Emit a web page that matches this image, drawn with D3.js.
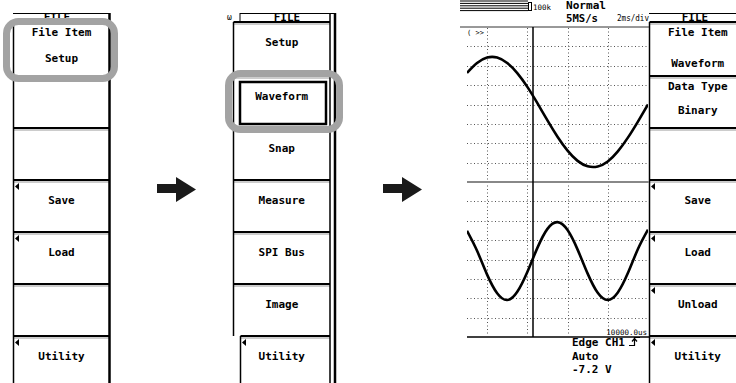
<!DOCTYPE html>
<html><head><meta charset="utf-8">
<script src="https://cdn.jsdelivr.net/npm/d3@7"></script>
<style>body{margin:0;background:#fff}svg{display:block}text{font-family:"DejaVu Sans Mono",monospace}</style>
</head><body>
<script>
// ---------------- DATA ----------------
const menu1Labels = [["File Item","Setup"], [], [], ["Save"], ["Load"], [], ["Utility"]];
const menu1Marks  = [false,false,false,true,true,false,true];
const menu2Labels = [["Setup"], ["Waveform"], ["Snap"], ["Measure"], ["SPI Bus"], ["Image"], ["Utility"]];
const menu2Marks  = [false,false,false,false,false,false,true];
const menu3Labels = [["File Item","Waveform"], ["Data Type","Binary"], [], ["Save"], ["Load"], ["Unload"], ["Utility"]];
const menu3Marks  = [false,false,false,true,true,true,true];
const menuTitle = "FILE";
// time axis in divisions (2 ms/div)
const tDiv = [-0.5,-0.25,0,0.25,0.5,0.75,1,1.25,1.5,1.75,2,2.25,2.5,2.75,3,3.25,3.5,3.75,4];
// CH1 and CH2 trace values in divisions
const ch1 = [1.63,2.14,2.42,2.42,2.14,1.62,0.91,0.07,-0.82,-1.66,-2.38,-2.91,-3.19,-3.20,-2.94,-2.42,-1.71,-0.88,0.00];
const ch2 = [1.48,0.45,-0.78,-1.74,-2.09,-1.66,-0.64,0.60,1.58,1.93,1.52,0.51,-0.73,-1.72,-2.09,-1.70,-0.70,0.54,1.54];
const gridX = [0,1,2,3];
const gridY = [-3,-2,-1,0,1,2,3];
const statusTop = ["Normal","5MS/s","2ms/div"];
const statusBottom = ["Edge CH1","Auto","-7.2 V"];
const timeLabel = "10000.0us";
const recLabel = "100k";
const scrollLabel = "( >>";

// ---------------- DRAW ----------------
const W = 736, H = 383;
const svg = d3.select("body").append("svg").attr("width", W).attr("height", H);
const rows = [22, 76, 128, 180, 232, 284, 336, 392];

function drawMenu(g, cfg){
  const {left, right, labels, marks, titleX} = cfg;
  const cx = (left + right) / 2;
  g.append("line").attr("x1", cfg.headLeft).attr("x2", cfg.headRight).attr("y1", 13.5).attr("y2", 13.5).attr("stroke", "#000").attr("stroke-width", 1);
  g.append("text").attr("x", titleX).attr("y", 21).attr("text-anchor", "middle")
    .attr("font-size", 11).attr("font-weight", "bold").text(menuTitle);
  labels.forEach((lab, i) => {
    const top = rows[i];
    const l = (cfg.rowLeft && cfg.rowLeft[i] !== undefined) ? cfg.rowLeft[i] : left;
    g.append("line").attr("x1", l).attr("x2", right).attr("y1", top).attr("y2", top)
      .attr("stroke", "#000").attr("stroke-width", 2);
    g.append("line").attr("x1", l).attr("x2", right).attr("y1", top + 2).attr("y2", top + 2)
      .attr("stroke", "#9a9a9a").attr("stroke-width", 1.2);
    g.append("line").attr("x1", l).attr("x2", l).attr("y1", top).attr("y2", rows[i+1])
      .attr("stroke", "#000").attr("stroke-width", 1.5);
    if (marks[i]) {
      g.append("path").attr("d", `M${l+1.5},${top+6.5} L${l+5.5},${top+3} L${l+5.5},${top+10} Z`).attr("fill", "#000");
    }
    const cy = lab.length === 2 ? [top + 14, top + (cfg.second ? cfg.second[i] || 40 : 40)] : [top + 24];
    lab.forEach((s, k) => {
      g.append("text").attr("x", cx + (cfg.dx || 0)).attr("y", cy[k]).attr("text-anchor", "middle")
        .attr("font-size", 11).attr("font-weight", "bold").text(s);
    });
  });
  g.append("line").attr("x1", right).attr("x2", right).attr("y1", 13).attr("y2", H)
    .attr("stroke", "#000").attr("stroke-width", cfg.rightW || 2.5);
}

const g1 = svg.append("g");
drawMenu(g1, {left: 13.5, right: 109.5, labels: menu1Labels, marks: menu1Marks, titleX: 57, headLeft: 13, headRight: 110, second: {0: 40}});
const g2 = svg.append("g");
drawMenu(g2, {left: 233.5, right: 330, labels: menu2Labels, marks: menu2Marks, titleX: 287, headLeft: 240, headRight: 335, rightW: 1.5, rowLeft: {6: 240.5}});
g2.append("line").attr("x1", 335).attr("x2", 335).attr("y1", 13).attr("y2", H).attr("stroke", "#000").attr("stroke-width", 2.5);
g2.append("line").attr("x1", 240).attr("x2", 240).attr("y1", 13).attr("y2", 22).attr("stroke", "#000").attr("stroke-width", 1);
g2.append("text").attr("x", 227).attr("y", 20).attr("font-size", 8).text("ω");
g2.append("rect").attr("x", 240).attr("y", 82).attr("width", 86).attr("height", 42)
  .attr("fill", "none").attr("stroke", "#000").attr("stroke-width", 2.5);
const g3 = svg.append("g");
drawMenu(g3, {left: 649.5, right: 746, labels: menu3Labels, marks: menu3Marks, titleX: 695, headLeft: 649, headRight: 746, dx: 0, second: {0: 45, 1: 38}});

svg.append("rect").attr("x", 6.5).attr("y", 21.5).attr("width", 108).attr("height", 57).attr("rx", 12)
  .attr("fill", "none").attr("stroke", "#a3a3a3").attr("stroke-width", 7);
svg.append("rect").attr("x", 228.5).attr("y", 73.5).attr("width", 111).attr("height", 56).attr("rx", 12)
  .attr("fill", "none").attr("stroke", "#a3a3a3").attr("stroke-width", 7);

[157, 383].forEach(x0 => {
  svg.append("path").attr("d", `M${x0},184 L${x0+19},184 L${x0+19},177 L${x0+39},189.5 L${x0+19},202 L${x0+19},193 L${x0},193 Z`)
    .attr("fill", "#1a1a1a");
});

// ---------------- Scope ----------------
const sc = svg.append("g");
const x = d3.scaleLinear().domain([-0.5, 4]).range([467, 648]);
const y1 = d3.scaleLinear().domain([-4, 4]).range([182, 27]);
const y2 = d3.scaleLinear().domain([-4, 4]).range([337, 182]);

gridX.forEach(d => {
  sc.append("line").attr("x1", Math.round(x(d)) + 0.5).attr("x2", Math.round(x(d)) + 0.5).attr("y1", 28).attr("y2", 336)
    .attr("stroke", "#555").attr("stroke-width", 1).attr("stroke-dasharray", "1,2.5");
});
[y1, y2].forEach(ys => gridY.forEach(d => {
  sc.append("line").attr("x1", 467).attr("x2", 648).attr("y1", Math.round(ys(d)) + 0.5).attr("y2", Math.round(ys(d)) + 0.5)
    .attr("stroke", "#555").attr("stroke-width", 1).attr("stroke-dasharray", "1,2.5");
}));
sc.append("line").attr("x1", 460).attr("x2", 649).attr("y1", y1(4)).attr("y2", y1(4)).attr("stroke", "#333").attr("stroke-width", 1);
sc.append("line").attr("x1", 467).attr("x2", 649).attr("y1", y1(-4)).attr("y2", y1(-4)).attr("stroke", "#888").attr("stroke-width", 2);
sc.append("line").attr("x1", 467).attr("x2", 649).attr("y1", y2(-4)).attr("y2", y2(-4)).attr("stroke", "#000").attr("stroke-width", 1.5);
sc.append("line").attr("x1", 533).attr("x2", 533).attr("y1", 27).attr("y2", 337).attr("stroke", "#000").attr("stroke-width", 1.5);

sc.append("clipPath").attr("id", "clip").append("rect").attr("x", 467).attr("y", 27).attr("width", 181).attr("height", 310);
const line1 = d3.line().x((d, i) => x(tDiv[i])).y(d => y1(d)).curve(d3.curveNatural);
const line2 = d3.line().x((d, i) => x(tDiv[i])).y(d => y2(d)).curve(d3.curveNatural);
sc.append("path").attr("d", line1(ch1)).attr("fill", "none").attr("stroke", "#000").attr("stroke-width", 2.6).attr("clip-path", "url(#clip)");
sc.append("path").attr("d", line2(ch2)).attr("fill", "none").attr("stroke", "#000").attr("stroke-width", 2.6).attr("clip-path", "url(#clip)");

[1, 3.4, 5.8, 8.2, 10.6].forEach(yy => {
  sc.append("line").attr("x1", 460).attr("x2", 528).attr("y1", yy).attr("y2", yy).attr("stroke", "#000").attr("stroke-width", 1);
});
sc.append("rect").attr("x", 528.5).attr("y", 2.5).attr("width", 3).attr("height", 8).attr("fill", "none").attr("stroke", "#000").attr("stroke-width", 1);
sc.append("text").attr("x", 533).attr("y", 10).attr("font-size", 7.5).text(recLabel);
sc.append("text").attr("x", 566).attr("y", 9).attr("font-size", 10).attr("font-weight", "bold").attr("textLength", 40).attr("lengthAdjust", "spacingAndGlyphs").text(statusTop[0]);
sc.append("text").attr("x", 566).attr("y", 21.5).attr("font-size", 10).attr("font-weight", "bold").attr("textLength", 32).attr("lengthAdjust", "spacingAndGlyphs").text(statusTop[1]);
sc.append("text").attr("x", 617).attr("y", 21).attr("font-size", 9).attr("textLength", 32).attr("lengthAdjust", "spacingAndGlyphs").text(statusTop[2]);
sc.append("text").attr("x", 467).attr("y", 35).attr("font-size", 7).text(scrollLabel);
sc.append("text").attr("x", 647).attr("y", 335).attr("text-anchor", "end").attr("font-size", 7.5).text(timeLabel);
statusBottom.forEach((s, i) => {
  sc.append("text").attr("x", 572).attr("y", 346 + i * 13.5).attr("font-size", 11).attr("font-weight", "bold").text(s);
});
sc.append("path").attr("d", "M629,345.5 L634.5,345.5 L634.5,337.5 L640,337.5 M632,341.5 L634.5,338.5 L637,341.5")
  .attr("fill", "none").attr("stroke", "#000").attr("stroke-width", 1.2);
</script>
</body></html>
